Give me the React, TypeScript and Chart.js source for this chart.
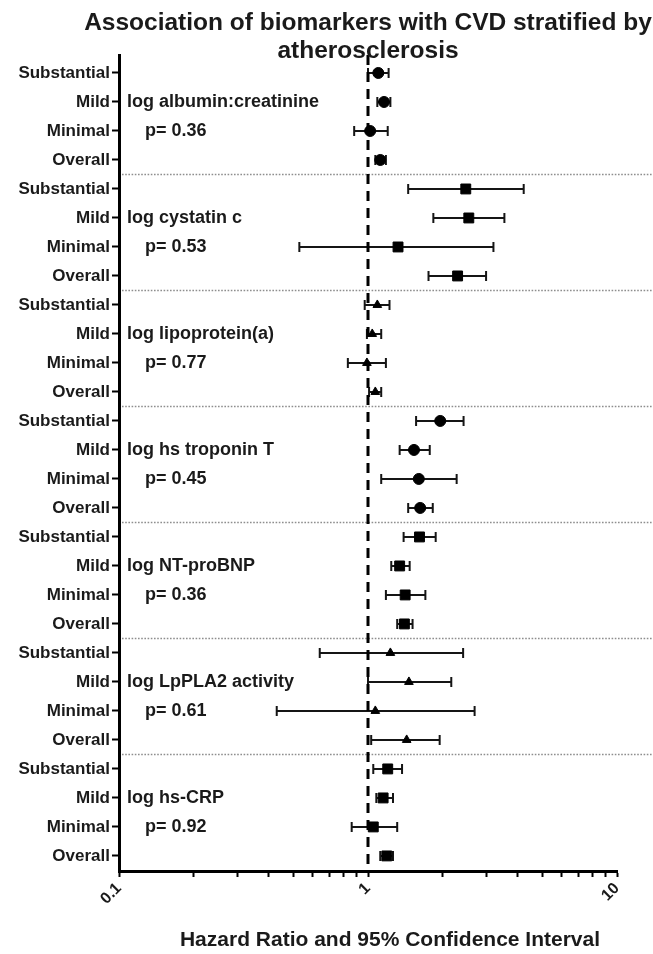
import React, { useEffect, useRef } from 'react';
import { Chart, registerables } from 'chart.js';

Chart.register(...registerables);

const chartTitle = ['Association of biomarkers with CVD stratified by', 'atherosclerosis'];
const xAxisTitle = 'Hazard Ratio and 95% Confidence Interval';
const groupNames = [
  'log albumin:creatinine',
  'log cystatin c',
  'log lipoprotein(a)',
  'log hs troponin T',
  'log NT-proBNP',
  'log LpPLA2 activity',
  'log hs-CRP',
];
const pValues = ['p= 0.36', 'p= 0.53', 'p= 0.77', 'p= 0.45', 'p= 0.36', 'p= 0.61', 'p= 0.92'];
const strata = ['Substantial', 'Mild', 'Minimal', 'Overall'];
const groupMarkers = ['circle', 'rect', 'triangle', 'circle', 'rect', 'triangle', 'rect'];

const hazard = [
  1.10, 1.16, 1.02, 1.12,
  2.47, 2.54, 1.32, 2.29,
  1.09, 1.04, 0.99, 1.07,
  1.95, 1.53, 1.60, 1.62,
  1.61, 1.34, 1.41, 1.40,
  1.23, 1.46, 1.07, 1.43,
  1.20, 1.15, 1.05, 1.19,
];
const lower = [
  1.00, 1.09, 0.88, 1.07,
  1.45, 1.83, 0.53, 1.75,
  0.97, 0.99, 0.83, 1.01,
  1.56, 1.34, 1.13, 1.45,
  1.39, 1.24, 1.18, 1.31,
  0.64, 1.00, 0.43, 1.03,
  1.05, 1.08, 0.86, 1.12,
];
const upper = [
  1.21, 1.23, 1.20, 1.18,
  4.22, 3.53, 3.19, 2.98,
  1.22, 1.13, 1.18, 1.13,
  2.42, 1.77, 2.27, 1.82,
  1.87, 1.47, 1.70, 1.51,
  2.41, 2.16, 2.68, 1.94,
  1.37, 1.26, 1.31, 1.26,
];

const xTickValues = [0.1, 0.2, 0.3, 0.4, 0.5, 0.6, 0.7, 0.8, 0.9, 1, 2, 3, 4, 5, 6, 7, 8, 9, 10];
const xTickLabels = ['0.1', '1', '10'];
const referenceHR = 1;

const FONT = '"Liberation Sans", Arial, Helvetica, sans-serif';
const rowLabels = groupNames.flatMap(() => strata);
const rowMarkers = groupNames.flatMap((_, g) => strata.map(() => groupMarkers[g]));
const Y_MIN = -0.62;
const Y_MAX = 27.52;

const forestPlugin = {
  id: 'forest',
  beforeDatasetsDraw(chart: any) {
    const { ctx, chartArea, scales } = chart;
    const x = scales.x;
    const y = scales.y;
    ctx.save();
    // group dividers
    ctx.strokeStyle = '#8e8e8e';
    ctx.lineWidth = 1.6;
    ctx.setLineDash([1.6, 1.6]);
    for (let g = 1; g < groupNames.length; g++) {
      const py = Math.round(y.getPixelForValue(g * strata.length - 0.5)) + 0.5;
      ctx.beginPath();
      ctx.moveTo(chartArea.left + 3, py);
      ctx.lineTo(chart.width, py);
      ctx.stroke();
    }
    ctx.setLineDash([]);
    // confidence intervals
    ctx.strokeStyle = '#151515';
    ctx.lineWidth = 2;
    lower.forEach((lo, i) => {
      const py = y.getPixelForValue(i);
      const x1 = x.getPixelForValue(lo);
      const x2 = x.getPixelForValue(upper[i]);
      ctx.beginPath();
      ctx.moveTo(x1, py);
      ctx.lineTo(x2, py);
      ctx.moveTo(x1, py - 5);
      ctx.lineTo(x1, py + 5);
      ctx.moveTo(x2, py - 5);
      ctx.lineTo(x2, py + 5);
      ctx.stroke();
    });
    ctx.restore();
  },
  afterDraw(chart: any) {
    const { ctx, chartArea, scales } = chart;
    const y = scales.y;
    ctx.save();
    ctx.fillStyle = '#1a1a1a';
    ctx.textBaseline = 'middle';
    ctx.textAlign = 'left';
    ctx.font = `bold 18px ${FONT}`;
    groupNames.forEach((name, g) => {
      ctx.fillText(name, chartArea.left + 8, y.getPixelForValue(g * strata.length + 1));
      ctx.fillText(pValues[g], chartArea.left + 26, y.getPixelForValue(g * strata.length + 2));
    });
    // title
    ctx.textAlign = 'center';
    ctx.font = `bold 24.5px ${FONT}`;
    const cx = (chartArea.left + chartArea.right) / 2;
    ctx.fillText(chartTitle[0], cx, 23);
    ctx.fillText(chartTitle[1], cx, 51);
    // x axis title
    ctx.font = `bold 21px ${FONT}`;
    ctx.fillText(xAxisTitle, 390, 940);
    ctx.restore();
  },
};

export default function App() {
  const canvasRef = useRef<HTMLCanvasElement | null>(null);

  useEffect(() => {
    if (!canvasRef.current) return;
    const chart = new Chart(canvasRef.current, {
      type: 'scatter',
      data: {
        datasets: [
          {
            type: 'line',
            data: [
              { x: referenceHR, y: Y_MIN },
              { x: referenceHR, y: Y_MAX },
            ],
            borderColor: '#000',
            borderWidth: 3,
            borderDash: [10, 7],
            pointRadius: 0,
            fill: false,
          } as any,
          {
            data: hazard.map((v, i) => ({ x: v, y: i })),
            pointStyle: rowMarkers as any,
            pointRadius: rowMarkers.map((m) => (m === 'rect' ? 7 : m === 'triangle' ? 5 : 5.5)),
            backgroundColor: '#000',
            borderColor: '#000',
            borderWidth: 1,
          },
        ],
      },
      options: {
        animation: false,
        responsive: false,
        maintainAspectRatio: false,
        layout: { padding: { top: 55, right: 36, bottom: 0, left: 0 } },
        plugins: {
          legend: { display: false },
          tooltip: { enabled: false },
          title: { display: false },
        },
        scales: {
          x: {
            type: 'logarithmic',
            min: 0.1,
            max: 10,
            afterBuildTicks: (scale: any) => {
              scale.ticks = xTickValues.map((v) => ({ value: v }));
            },
            afterFit: (scale: any) => {
              scale.height = 83;
            },
            border: { display: true, color: '#000', width: 3 },
            grid: {
              display: true,
              drawOnChartArea: false,
              drawTicks: true,
              tickLength: 6,
              tickWidth: 2,
              tickColor: '#000',
            },
            ticks: {
              autoSkip: false,
              minRotation: 45,
              maxRotation: 45,
              padding: 2,
              color: '#1a1a1a',
              font: { family: FONT, size: 16, weight: 'bold' },
              callback: (v: any) => {
                const s = String(Number(v));
                return xTickLabels.includes(s) ? s : '';
              },
            },
          },
          y: {
            type: 'linear',
            reverse: true,
            min: Y_MIN,
            max: Y_MAX,
            afterBuildTicks: (scale: any) => {
              scale.ticks = rowLabels.map((_, i) => ({ value: i }));
            },
            afterFit: (scale: any) => {
              scale.width = 119;
            },
            border: { display: true, color: '#000', width: 3 },
            grid: {
              display: true,
              drawOnChartArea: false,
              drawTicks: true,
              tickLength: 7,
              tickWidth: 2,
              tickColor: '#000',
            },
            ticks: {
              autoSkip: false,
              padding: 2,
              color: '#1a1a1a',
              font: { family: FONT, size: 17, weight: 'bold' },
              callback: (v: any) => rowLabels[Number(v)] ?? '',
            },
          },
        },
      } as any,
      plugins: [forestPlugin],
    });
    return () => chart.destroy();
  }, []);

  return (
    <div style={{ position: 'fixed', left: 0, top: 0, width: 653, height: 954, background: '#fff' }}>
      <canvas ref={canvasRef} width={653} height={954} style={{ width: 653, height: 954 }} />
    </div>
  );
}
